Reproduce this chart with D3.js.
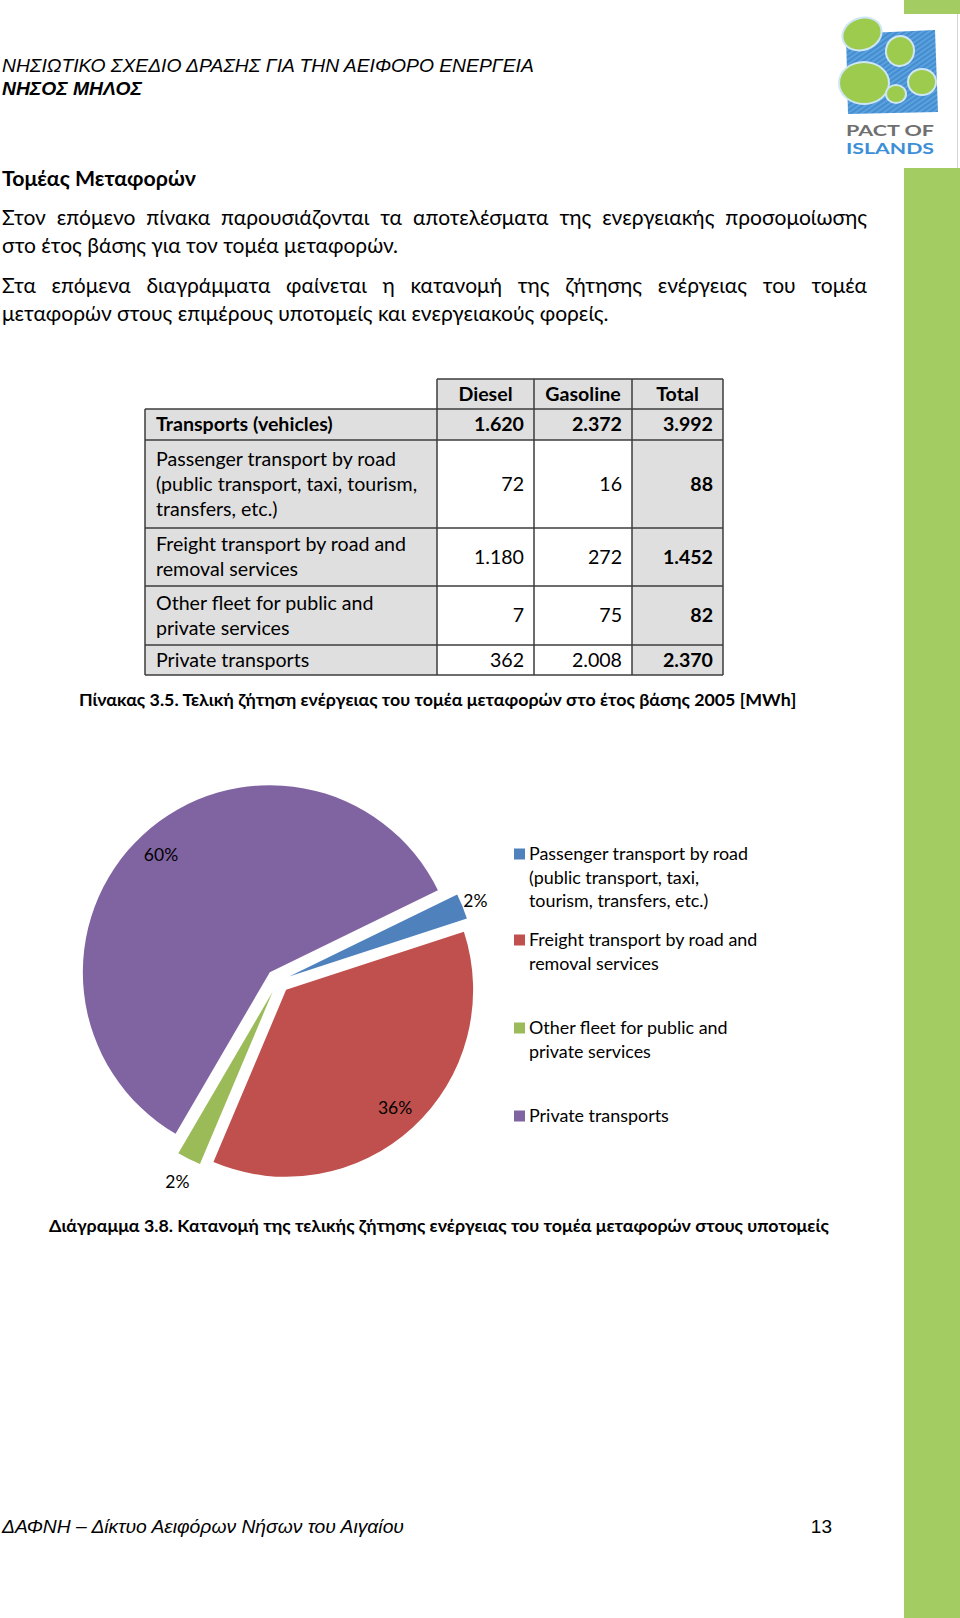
<!DOCTYPE html>
<html>
<head>
<meta charset="utf-8">
<script src="https://cdnjs.cloudflare.com/ajax/libs/d3/7.8.5/d3.min.js"></script>
<style>
  body { margin: 0; background: #ffffff; }
  text { fill: #000000; }
</style>
</head>
<body>
<div id="page"></div>
<script>
// ---- data ----
var headerLines = ["ΝΗΣΙΩΤΙΚΟ ΣΧΕΔΙΟ ΔΡΑΣΗΣ ΓΙΑ ΤΗΝ ΑΕΙΦΟΡΟ ΕΝΕΡΓΕΙΑ", "ΝΗΣΟΣ ΜΗΛΟΣ"];
var sectionTitle = "Τομέας Μεταφορών";
var paragraphs = [
  ["Στον επόμενο πίνακα παρουσιάζονται τα αποτελέσματα της ενεργειακής προσομοίωσης",
   "στο έτος βάσης για τον τομέα μεταφορών."],
  ["Στα επόμενα διαγράμματα φαίνεται η κατανομή της ζήτησης ενέργειας του τομέα",
   "μεταφορών στους επιμέρους υποτομείς και ενεργειακούς φορείς."]
];

var tableColumns = ["Diesel", "Gasoline", "Total"];
var tableRows = [
  ["Transports (vehicles)"],
  ["Passenger transport by road", "(public transport, taxi, tourism,", "transfers, etc.)"],
  ["Freight transport by road and", "removal services"],
  ["Other fleet for public and", "private services"],
  ["Private transports"]
];
var dieselValues   = [1620, 72, 1180, 7, 362];
var gasolineValues = [2372, 16, 272, 75, 2008];
var totalValues    = [3992, 88, 1452, 82, 2370];
var tableCaption = "Πίνακας 3.5. Τελική ζήτηση ενέργειας του τομέα μεταφορών στο έτος βάσης 2005 [MWh]";

var pieCategories = [
  ["Passenger transport by road", "(public transport, taxi,", "tourism, transfers, etc.)"],
  ["Freight transport by road and", "removal services"],
  ["Other fleet for public and", "private services"],
  ["Private transports"]
];
var pieValues = [88, 1452, 82, 2370];
var pieLabels = ["2%", "36%", "2%", "60%"];
var pieColors = ["#4f81bd", "#c0504d", "#9bbb59", "#8064a2"];
var chartCaption = "Διάγραμμα 3.8. Κατανομή της τελικής ζήτησης ενέργειας του τομέα μεταφορών στους υποτομείς";

var footerText = "ΔΑΦΝΗ – Δίκτυο Αειφόρων Νήσων του Αιγαίου";
var pageNumber = "13";

// ---- page ----
var W = 960, H = 1618;
var bodyFont = "Lato, 'Noto Sans', sans-serif";
var arialFont = "'Liberation Sans', Arial, sans-serif";

var svg = d3.select("#page").append("svg")
  .attr("width", W)
  .attr("height", H)
  .style("display", "block");

svg.append("rect").attr("width", W).attr("height", H).attr("fill", "#ffffff");

// green side band, broken by the logo
var band = "#a3cd62";
svg.append("rect").attr("x", 904).attr("y", 0).attr("width", 56).attr("height", 14).attr("fill", band);
svg.append("rect").attr("x", 904).attr("y", 168).attr("width", 56).attr("height", H - 168).attr("fill", band);
svg.append("line").attr("x1", 957.5).attr("x2", 957.5).attr("y1", 14).attr("y2", 168)
  .attr("stroke", "#d4d4d4").attr("stroke-width", 1);

// logo (pact of islands)
var logo = svg.append("g");
var hatch = svg.append("defs").append("pattern")
  .attr("id", "hatch").attr("patternUnits", "userSpaceOnUse")
  .attr("width", 4).attr("height", 4).attr("patternTransform", "rotate(-35)");
hatch.append("rect").attr("width", 4).attr("height", 4).attr("fill", "#5aa2dd");
hatch.append("line").attr("x1", 0).attr("x2", 4).attr("y1", 1).attr("y2", 1)
  .attr("stroke", "#3a80c9").attr("stroke-width", 1.3);
logo.append("path")
  .attr("d", "M846,34 L935,30 L938,112 L848,114 Z")
  .attr("fill", "url(#hatch)");
var blobs = [
  [862, 34, 19, 15, -20],
  [900, 51, 13, 14, 10],
  [864, 83, 24, 20, 0],
  [922, 82, 13, 12, 0],
  [896, 94, 9, 8, 0]
];
blobs.forEach(function(b) {
  logo.append("ellipse")
    .attr("cx", b[0]).attr("cy", b[1]).attr("rx", b[2] + 2).attr("ry", b[3] + 2)
    .attr("transform", "rotate(" + b[4] + "," + b[0] + "," + b[1] + ")")
    .attr("fill", "#cfe6f5");
  logo.append("ellipse")
    .attr("cx", b[0]).attr("cy", b[1]).attr("rx", b[2]).attr("ry", b[3])
    .attr("transform", "rotate(" + b[4] + "," + b[0] + "," + b[1] + ")")
    .attr("fill", "#9ccb4e");
});
logo.append("text").attr("x", 890).attr("y", 136).attr("text-anchor", "middle")
  .style("font-family", bodyFont).style("font-weight", 700).style("font-size", "15px")
  .attr("textLength", 88).attr("lengthAdjust", "spacingAndGlyphs")
  .style("fill", "#6f6f6f").text("PACT OF");
logo.append("text").attr("x", 890).attr("y", 154).attr("text-anchor", "middle")
  .style("font-family", bodyFont).style("font-weight", 700).style("font-size", "15px")
  .attr("textLength", 88).attr("lengthAdjust", "spacingAndGlyphs")
  .style("fill", "#3c8fd6").text("ISLANDS");

// running header
svg.append("text").attr("x", 2).attr("y", 65).attr("dy", "0.35em")
  .style("font-family", arialFont).style("font-style", "italic").style("font-size", "19.3px")
  .text(headerLines[0]);
svg.append("text").attr("x", 2).attr("y", 88).attr("dy", "0.35em")
  .style("font-family", arialFont).style("font-style", "italic").style("font-weight", 700).style("font-size", "19.3px")
  .text(headerLines[1]);

// section title + paragraphs
var paraSize = 21;
svg.append("text").attr("x", 2).attr("y", 179).attr("dy", "0.35em")
  .style("font-family", bodyFont).style("font-weight", 700).style("font-size", "21.3px")
  .text(sectionTitle);

function justifyLine(words, x0, x1, y, size) {
  var g = svg.append("g");
  var nodes = words.map(function(w) {
    return g.append("text").attr("y", y).attr("dy", "0.35em")
      .style("font-family", bodyFont).style("font-size", size + "px").text(w);
  });
  var widths = nodes.map(function(n) { return n.node().getComputedTextLength(); });
  var gap = (x1 - x0 - d3.sum(widths)) / (words.length - 1);
  var x = x0;
  nodes.forEach(function(n, i) { n.attr("x", x); x += widths[i] + gap; });
}
var paraY = [[218, 246], [286, 314]];
paragraphs.forEach(function(p, i) {
  justifyLine(p[0].split(" "), 2, 867, paraY[i][0], paraSize);
  svg.append("text").attr("x", 2).attr("y", paraY[i][1]).attr("dy", "0.35em")
    .style("font-family", bodyFont).style("font-size", paraSize + "px").text(p[1]);
});

// ---- table ----
var fmt = d3.formatLocale({decimal: ",", thousands: ".", grouping: [3], currency: ["", ""]}).format(",");
var colEdges = [145, 437, 534, 632, 723];
var headerTop = 379, headerBottom = 409;
var rowHeights = [31, 88, 58, 59, 30];
var lineStep = 25;
var cellGray = "#dfdfdf", gridColor = "#3c3c3c";
var tableFont = 19.6;

var rowTops = [headerBottom];
rowHeights.forEach(function(h, i) { rowTops.push(rowTops[i] + h); });

var table = svg.append("g");
// header cells
tableColumns.forEach(function(c, j) {
  table.append("rect").attr("x", colEdges[j + 1]).attr("y", headerTop)
    .attr("width", colEdges[j + 2] - colEdges[j + 1]).attr("height", headerBottom - headerTop)
    .attr("fill", cellGray);
  table.append("text").attr("x", (colEdges[j + 1] + colEdges[j + 2]) / 2).attr("y", (headerTop + headerBottom) / 2)
    .attr("dy", "0.35em").attr("text-anchor", "middle")
    .style("font-family", bodyFont).style("font-weight", 700).style("font-size", tableFont + "px")
    .text(c);
});
var colValues = [dieselValues, gasolineValues, totalValues];
tableRows.forEach(function(lines, i) {
  var top = rowTops[i], bot = rowTops[i + 1], mid = (top + bot) / 2;
  var bold = (i === 0);
  for (var j = 0; j < 4; j++) {
    var gray = (i === 0 || j === 0 || j === 3);
    table.append("rect").attr("x", colEdges[j]).attr("y", top)
      .attr("width", colEdges[j + 1] - colEdges[j]).attr("height", bot - top)
      .attr("fill", gray ? cellGray : "#ffffff");
  }
  lines.forEach(function(l, k) {
    table.append("text").attr("x", colEdges[0] + 11)
      .attr("y", mid + (k - (lines.length - 1) / 2) * lineStep).attr("dy", "0.35em")
      .style("font-family", bodyFont).style("font-weight", bold ? 700 : 400).style("font-size", tableFont + "px")
      .text(l);
  });
  colValues.forEach(function(vals, j) {
    table.append("text").attr("x", colEdges[j + 2] - 10).attr("y", mid).attr("dy", "0.35em")
      .attr("text-anchor", "end")
      .style("font-family", bodyFont).style("font-weight", (bold || j === 2) ? 700 : 400)
      .style("font-size", tableFont + "px")
      .text(fmt(vals[i]));
  });
});
// grid lines
var tableBottom = rowTops[rowTops.length - 1];
rowTops.forEach(function(y) {
  table.append("line").attr("x1", colEdges[0]).attr("x2", colEdges[4]).attr("y1", y).attr("y2", y)
    .attr("stroke", gridColor).attr("stroke-width", 1.5);
});
table.append("line").attr("x1", colEdges[1]).attr("x2", colEdges[4]).attr("y1", headerTop).attr("y2", headerTop)
  .attr("stroke", gridColor).attr("stroke-width", 1.5);
colEdges.forEach(function(x, j) {
  table.append("line").attr("x1", x).attr("x2", x)
    .attr("y1", j === 0 ? headerBottom : headerTop).attr("y2", tableBottom)
    .attr("stroke", gridColor).attr("stroke-width", 1.5);
});

svg.append("text").attr("x", 79).attr("y", 700).attr("dy", "0.35em")
  .style("font-family", bodyFont).style("font-weight", 700).style("font-size", "17.8px")
  .text(tableCaption);

// ---- pie ----
var pieCx = 278, pieCy = 981, pieR = 187, explode = 12;
var startDeg = 64;
var labelRadius = [201, 161, 213, 160];

var pie = d3.pie().sort(null)
  .startAngle(startDeg * Math.PI / 180)
  .endAngle(startDeg * Math.PI / 180 + 2 * Math.PI);
var arcs = pie(pieValues);
var arc = d3.arc().innerRadius(0).outerRadius(pieR);

var pieG = svg.append("g").attr("transform", "translate(" + pieCx + "," + pieCy + ")");
var slice = pieG.selectAll("g.slice").data(arcs).enter().append("g")
  .attr("class", "slice")
  .attr("transform", function(d) {
    var a = (d.startAngle + d.endAngle) / 2;
    return "translate(" + (explode * Math.sin(a)) + "," + (-explode * Math.cos(a)) + ")";
  });
slice.append("path").attr("d", arc).attr("fill", function(d, i) { return pieColors[i]; });
slice.append("text")
  .attr("transform", function(d, i) {
    var c = d3.arc().innerRadius(labelRadius[i]).outerRadius(labelRadius[i]).centroid(d);
    return "translate(" + c[0] + "," + c[1] + ")";
  })
  .attr("dy", "0.35em").attr("text-anchor", "middle")
  .style("font-family", bodyFont).style("font-size", "17.5px")
  .text(function(d, i) { return pieLabels[i]; });

// legend
var legendX = 514, legendSq = 11;
var legendTop = [854, 940, 1028, 1116];
var legendStep = 23.5;
var legend = svg.append("g");
pieCategories.forEach(function(lines, i) {
  legend.append("rect").attr("x", legendX).attr("y", legendTop[i] - legendSq / 2)
    .attr("width", legendSq).attr("height", legendSq).attr("fill", pieColors[i]);
  lines.forEach(function(l, k) {
    legend.append("text").attr("x", legendX + 15).attr("y", legendTop[i] + k * legendStep).attr("dy", "0.35em")
      .style("font-family", bodyFont).style("font-size", "17.9px").text(l);
  });
});

svg.append("text").attr("x", 49).attr("y", 1226).attr("dy", "0.35em")
  .style("font-family", bodyFont).style("font-weight", 700).style("font-size", "17.8px")
  .text(chartCaption);

// footer
svg.append("text").attr("x", 2).attr("y", 1526).attr("dy", "0.35em")
  .style("font-family", arialFont).style("font-style", "italic").style("font-size", "19.3px")
  .text(footerText);
svg.append("text").attr("x", 832).attr("y", 1526).attr("dy", "0.35em").attr("text-anchor", "end")
  .style("font-family", arialFont).style("font-size", "19px")
  .text(pageNumber);
</script>
</body>
</html>
